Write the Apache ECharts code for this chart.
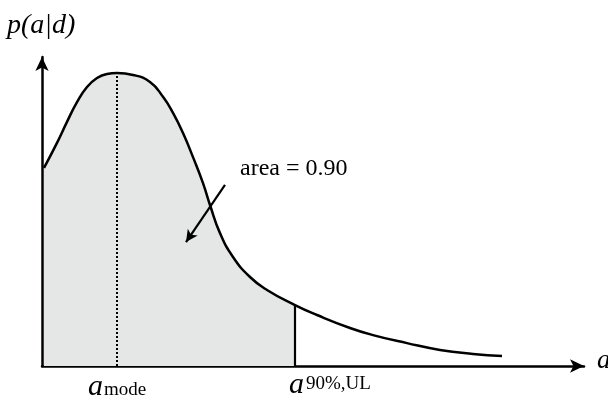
<!DOCTYPE html>
<html>
<head>
<meta charset="utf-8">
<script src="https://cdn.jsdelivr.net/npm/echarts@6/dist/echarts.min.js"></script>
<style>html,body{margin:0;padding:0;background:#fff;}#c{width:608px;height:403px;}</style>
</head>
<body>
<div id="c"></div>
<script>
// Posterior curve p(a|d) (arbitrary units)
const curveX = [0.04, 0.30, 0.50, 0.70, 0.90, 1.10, 1.30, 1.50, 1.82, 2.16, 2.42, 2.62, 2.82, 3.02, 3.22, 3.36, 3.56, 3.82, 4.16, 4.50, 5.06, 5.50, 6.16, 6.62, 7.30, 7.96, 8.62, 9.20];
const curveY = [0.641, 0.722, 0.790, 0.854, 0.903, 0.932, 0.945, 0.948, 0.942, 0.919, 0.871, 0.819, 0.754, 0.676, 0.592, 0.521, 0.430, 0.353, 0.288, 0.246, 0.197, 0.165, 0.123, 0.100, 0.074, 0.052, 0.039, 0.032];
const modeX = 1.50;
const ulX = 5.06;
const arrowFrom = [3.66, 0.586];
const arrowTo = [2.88, 0.401];
const yAxisTitle = 'p(a|d)';
const xAxisTitle = 'a';
const areaText = 'area = 0.90';
const modeLabel = ['a', 'mode'];
const ulLabel = ['a', '90%,UL'];

const curve = curveX.map((x, i) => [x, curveY[i]]);
const filled = curve.filter(p => p[0] <= ulX);
const modeY = curveY[curveX.indexOf(modeX)];
const ulY = curveY[curveX.indexOf(ulX)];
const SERIF = 'Liberation Serif';

const chart = echarts.init(document.getElementById('c'), null, {renderer: 'canvas'});
const axisCommon = {
  type: 'value',
  axisLine: {show: true, symbol: ['none', 'arrow'], symbolSize: [10, 14], lineStyle: {color: '#000', width: 2.5}},
  axisTick: {show: false}, axisLabel: {show: false}, splitLine: {show: false}
};
chart.setOption({
  animation: false,
  backgroundColor: '#fff',
  grid: {left: 42, right: 24, top: 57, bottom: 37, containLabel: false, outerBoundsMode: 'none'},
  xAxis: Object.assign({}, axisCommon, {min: 0, max: 10.84}),
  yAxis: Object.assign({}, axisCommon, {min: 0, max: 1}),
  series: [
    {type: 'line', data: filled, smooth: 0.5, symbol: 'none', lineStyle: {width: 0, opacity: 0},
     areaStyle: {color: '#e5e6e6', opacity: 1}, z: 1},
    {type: 'line', data: curve, smooth: 0.5, symbol: 'none', lineStyle: {color: '#000', width: 2.5}, z: 3},
    {type: 'line', data: [[modeX, 0], [modeX, modeY]], symbol: 'none', lineStyle: {color: '#000', width: 2, type: [2, 2]}, z: 2},
    {type: 'line', data: [[ulX, 0], [ulX, ulY]], symbol: 'none', lineStyle: {color: '#000', width: 2.2}, z: 2},
    {type: 'line', data: [], markLine: {silent: true, symbol: ['none', 'arrow'], symbolSize: [9, 12],
      lineStyle: {color: '#000', width: 2.2, type: 'solid'}, label: {show: false}, emphasis: {disabled: true},
      data: [[{coord: arrowFrom}, {coord: arrowTo}]]}, z: 4}
  ],
  graphic: [
    {type: 'text', left: 7, top: 12, style: {text: yAxisTitle, font: 'italic 28px "' + SERIF + '"', fill: '#000'}},
    {type: 'text', x: 597, y: 361, style: {text: xAxisTitle, font: 'italic 27px "' + SERIF + '"', fill: '#000', verticalAlign: 'middle'}},
    {type: 'text', x: 240, y: 169, style: {text: areaText, font: '24px "' + SERIF + '"', fill: '#000', verticalAlign: 'middle'}},
    {type: 'text', x: 88, y: 387, style: {text: modeLabel[0], font: 'italic 30px "' + SERIF + '"', fill: '#000', verticalAlign: 'middle'}},
    {type: 'text', x: 104, y: 390.5, style: {text: modeLabel[1], font: '19px "' + SERIF + '"', fill: '#000', verticalAlign: 'middle'}},
    {type: 'text', x: 289, y: 385, style: {text: ulLabel[0], font: 'italic 30px "' + SERIF + '"', fill: '#000', verticalAlign: 'middle'}},
    {type: 'text', x: 306, y: 384, style: {text: ulLabel[1], font: '19px "' + SERIF + '"', fill: '#000', verticalAlign: 'middle'}}
  ]
});
</script>
</body>
</html>
